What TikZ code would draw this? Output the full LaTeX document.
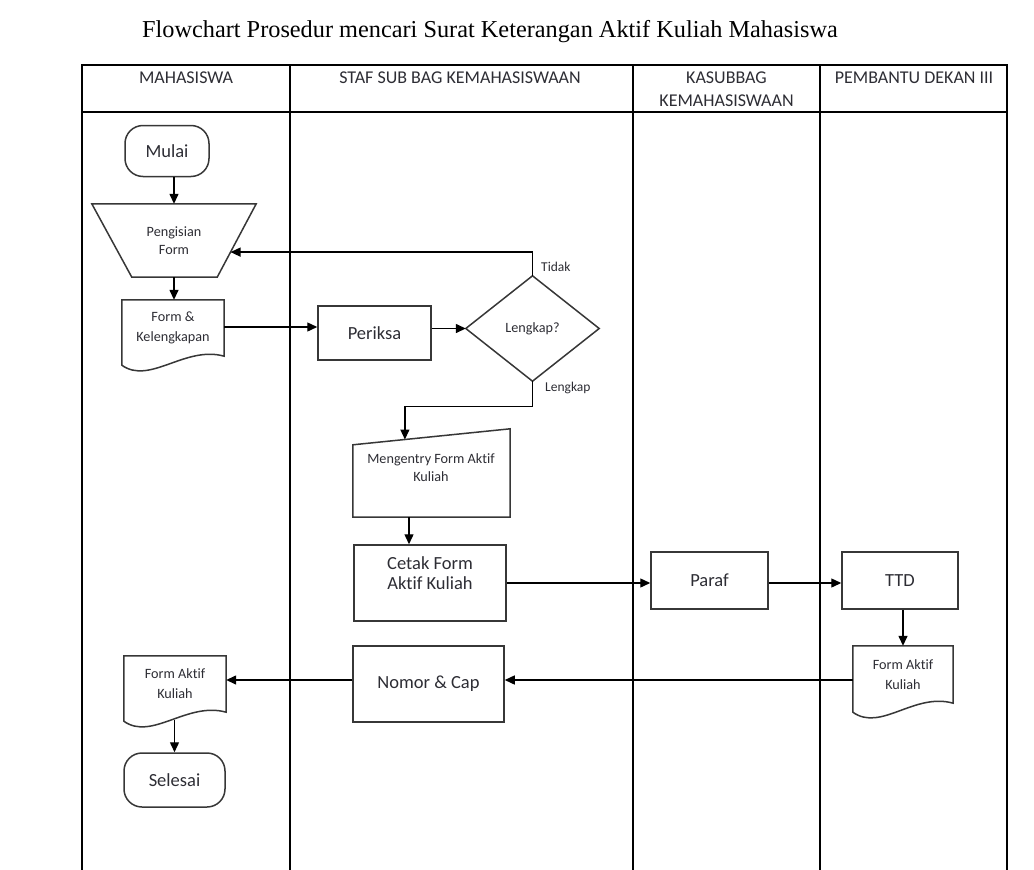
\documentclass[tikz,border=0pt]{standalone}
\usepackage{fontspec}
\setmainfont{Liberation Serif}
\newfontfamily\carl[Ligatures=NoCommon]{Carlito}
\usetikzlibrary{arrows.meta,calc}
\definecolor{txt}{RGB}{45,45,52}
\definecolor{edge}{RGB}{55,55,55}
\newcommand\mydoc[1]{\draw[shp] ([yshift=-9pt]#1.south west) -- (#1.north west) -- (#1.north east) -- (#1.south east) .. controls +(-39,-11) and +(28,20) .. ([yshift=-9pt]#1.south west) -- cycle;}
\begin{document}
\begin{tikzpicture}[x=1pt,y=-1pt,
  lane/.style={line width=1.7pt, black},
  hdr/.style={font=\carl\fontsize{18}{23}\selectfont, text=txt, align=center, anchor=north, inner sep=0pt},
  shp/.style={draw=edge, line width=1.5pt},
  big/.style={font=\carl\fontsize{18.5}{20}\selectfont, text=txt, align=center},
  small/.style={font=\carl\fontsize{14.2}{18}\selectfont, text=txt, align=center},
  docsmall/.style={font=\carl\fontsize{14.2}{20}\selectfont, text=txt, align=center},
  proc/.style={shp, rectangle, inner sep=0pt},
  term/.style={shp, rectangle, rounded corners=18pt, inner sep=0pt},
  ghost/.style={draw=none, rectangle, inner sep=0pt},
  arr/.style={line width=1.4pt, black, -{Triangle[length=10pt,width=9pt]}},
  lbl/.style={font=\carl\fontsize{13.5}{15}\selectfont, text=txt, anchor=west, inner sep=0pt},
]
\useasboundingbox (0,0) rectangle (1034,870);
% title
\node[font=\fontsize{24.3}{28}\selectfont, anchor=base, inner sep=0pt] (title) at (490,37) {Flowchart Prosedur mencari Surat Keterangan Aktif Kuliah Mahasiswa};
% swimlane table
\draw[lane] (82,870) -- (82,65) -- (1007,65) -- (1007,870);
\draw[lane] (82,112) -- (1007,112);
\foreach \x in {290,633,820} \draw[lane] (\x,65) -- (\x,870);
\node[hdr] (h1) at (186,72) {MAHASISWA};
\node[hdr] (h2) at (460,72) {STAF SUB BAG KEMAHASISWAAN};
\node[hdr] (h3) at (726.5,72) {KASUBBAG\\KEMAHASISWAAN};
\node[hdr] (h4) at (914,72) {PEMBANTU DEKAN III};
% shapes
\node[term, big, minimum width=84pt, minimum height=51pt] (mulai) at (167,151) {Mulai};
\node[ghost, small, minimum width=164pt, minimum height=73pt] (isi) at (174,240.5) {Pengisian\\Form};
\draw[shp] (isi.north west) -- (isi.north east) -- ([xshift=-39pt]isi.south east) -- ([xshift=40pt]isi.south west) -- cycle;
\node[ghost, docsmall, minimum width=102pt, minimum height=56pt] (doc1) at (173,328) {Form \&\\Kelengkapan};
\mydoc{doc1}
\node[proc, big, minimum width=113pt, minimum height=54pt] (periksa) at (374.5,333) {Periksa};
\node[ghost, small, minimum width=133pt, minimum height=105pt] (lengkap) at (532.5,328.5) {Lengkap?};
\draw[shp] (lengkap.north) -- (lengkap.east) -- (lengkap.south) -- (lengkap.west) -- cycle;
\node[ghost, minimum width=157pt, minimum height=88pt] (mentry) at (431.5,473) {};
\draw[shp] ([yshift=-16pt]mentry.north west) -- (mentry.north east) -- (mentry.south east) -- (mentry.south west) -- cycle;
\node[small] (mentrytext) at (431,467.5) {Mengentry Form Aktif\\Kuliah};
\node[proc, minimum width=152pt, minimum height=76pt] (cetak) at (430,583) {};
\node[big] (cetaktext) at (430,573) {Cetak Form\\Aktif Kuliah};
\node[proc, big, minimum width=117pt, minimum height=57pt] (paraf) at (709.5,580.5) {Paraf};
\node[proc, big, minimum width=116pt, minimum height=57pt] (ttd) at (900,580.5) {TTD};
\node[ghost, docsmall, minimum width=100pt, minimum height=57pt] (doc2) at (903,674.5) {Form Aktif\\Kuliah};
\mydoc{doc2}
\node[proc, big, minimum width=151pt, minimum height=76pt] (nomor) at (428.5,684) {Nomor \& Cap};
\node[ghost, docsmall, minimum width=102pt, minimum height=56pt] (doc3) at (175,684) {Form Aktif\\Kuliah};
\mydoc{doc3}
\node[term, big, minimum width=101pt, minimum height=54pt] (selesai) at (174.5,780) {Selesai};
% helper rows
\coordinate (rowA) at (0,327);
\coordinate (rowB) at (0,680);
\coordinate (rowC) at (0,583);
\coordinate (docB) at (0,720);
\coordinate (tidakEnd) at ($(isi.north east)!0.658!([xshift=-39pt]isi.south east)$);
\coordinate (lkEnd) at ($([yshift=-16pt]mentry.north west)!0.331!(mentry.north east)$);
\coordinate (cx) at ([xshift=-21pt]cetak.north);
% connectors
\draw[arr] (isi.north |- mulai.south) -- (isi.north);
\draw[arr] (isi.south) -- (isi.south |- doc1.north);
\draw[arr] (doc1.east |- rowA) -- (periksa.west |- rowA);
\draw[arr] (periksa.east |- lengkap.west) -- (lengkap.west);
\draw[arr] (lengkap.north) |- (tidakEnd);
\node[lbl] (tidak) at (541,267) {Tidak};
\draw[arr] (lengkap.south) -- ++(0,25) -| (lkEnd);
\node[lbl] (lkp) at (545,388) {Lengkap};
\draw[arr] (cx |- mentry.south) -- (cx);
\draw[arr] (cetak.east |- rowC) -- (paraf.west |- rowC);
\draw[arr] (paraf.east |- rowC) -- (ttd.west |- rowC);
\draw[arr] (doc2.north |- ttd.south) -- (doc2.north);
\draw[arr] (doc2.west |- rowB) -- (nomor.east |- rowB);
\draw[arr] (nomor.west |- rowB) -- (doc3.east |- rowB);
\draw[arr] (selesai.north |- docB) -- (selesai.north);
\end{tikzpicture}
\end{document}
